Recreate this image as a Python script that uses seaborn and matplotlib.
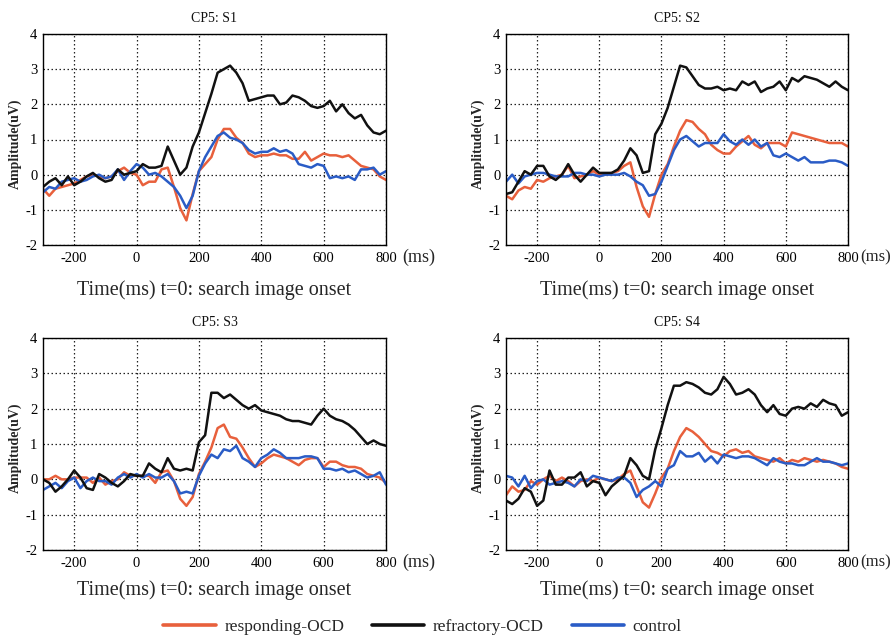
import matplotlib
matplotlib.use("Agg")
import matplotlib.pyplot as plt
import numpy as np
import pandas as pd
import seaborn as sns

# ---------------- data ----------------
times = [-300, -280, -260, -240, -220, -200, -180, -160,
         -140, -120, -100, -80, -60, -40, -20, 0,
         20, 40, 60, 80, 100, 120, 140, 160,
         180, 200, 220, 240, 260, 280, 300, 320,
         340, 360, 380, 400, 420, 440, 460, 480,
         500, 520, 540, 560, 580, 600, 620, 640,
         660, 680, 700, 720, 740, 760, 780, 800]

panel_titles = ["CP5: S1", "CP5: S2", "CP5: S3", "CP5: S4"]
groups = ["responding-OCD", "refractory-OCD", "control"]
x_ticks = [-200, 0, 200, 400, 600, 800]
y_ticks = [-2, -1, 0, 1, 2, 3, 4]

s1_responding = [-0.4, -0.6, -0.4, -0.35, -0.3, -0.25, -0.15, -0.05,
                 0.0, -0.05, -0.1, -0.05, 0.1, 0.2, 0.05, 0.0,
                 -0.3, -0.2, -0.2, 0.15, 0.2, -0.35, -0.95, -1.3,
                 -0.55, 0.1, 0.3, 0.5, 1.0, 1.3, 1.3, 1.05,
                 0.9, 0.6, 0.5, 0.55, 0.55, 0.6, 0.55, 0.55,
                 0.45, 0.45, 0.65, 0.4, 0.5, 0.6, 0.55, 0.55,
                 0.5, 0.55, 0.4, 0.25, 0.2, 0.15, -0.05, -0.15]
s1_refractory = [-0.35, -0.2, -0.1, -0.3, -0.05, -0.3, -0.2, -0.05,
                 0.05, -0.1, -0.2, -0.15, 0.15, 0.0, 0.05, 0.1,
                 0.3, 0.2, 0.2, 0.25, 0.8, 0.4, 0.0, 0.2,
                 0.8, 1.2, 1.75, 2.3, 2.9, 3.0, 3.1, 2.9,
                 2.6, 2.1, 2.15, 2.2, 2.25, 2.25, 2.0, 2.05,
                 2.25, 2.2, 2.1, 1.95, 1.9, 1.95, 2.1, 1.8,
                 2.0, 1.75, 1.6, 1.7, 1.4, 1.2, 1.15, 1.25]
s1_control = [-0.5, -0.35, -0.4, -0.2, -0.15, -0.1, -0.2, -0.15,
              -0.05, 0.0, -0.1, -0.05, 0.15, -0.15, 0.1, 0.3,
              0.2, 0.0, 0.05, -0.05, -0.2, -0.35, -0.6, -0.95,
              -0.6, 0.1, 0.5, 0.8, 1.1, 1.2, 1.05, 1.0,
              0.9, 0.7, 0.6, 0.65, 0.65, 0.75, 0.65, 0.7,
              0.6, 0.3, 0.25, 0.2, 0.3, 0.25, -0.1, -0.05,
              -0.1, -0.05, -0.15, 0.15, 0.15, 0.2, 0.0, 0.1]

s2_responding = [-0.6, -0.7, -0.45, -0.35, -0.4, -0.15, -0.2, -0.1,
                 -0.05, 0.0, 0.25, -0.1, -0.05, 0.0, 0.1, 0.0,
                 0.0, 0.05, 0.1, 0.25, 0.35, -0.35, -0.9, -1.2,
                 -0.55, 0.0, 0.3, 0.8, 1.25, 1.55, 1.5, 1.3,
                 1.15, 0.85, 0.7, 0.6, 0.6, 0.8, 0.95, 1.1,
                 0.85, 0.75, 0.9, 0.9, 0.9, 0.8, 1.2, 1.15,
                 1.1, 1.05, 1.0, 0.95, 0.9, 0.9, 0.9, 0.8]
s2_refractory = [-0.55, -0.5, -0.2, 0.1, 0.0, 0.25, 0.25, -0.05,
                 -0.15, 0.0, 0.3, 0.0, -0.2, 0.0, 0.2, 0.05,
                 0.05, 0.05, 0.15, 0.4, 0.75, 0.55, 0.05, 0.1,
                 1.15, 1.45, 1.9, 2.5, 3.1, 3.05, 2.8, 2.55,
                 2.45, 2.45, 2.5, 2.4, 2.45, 2.4, 2.65, 2.55,
                 2.65, 2.35, 2.45, 2.5, 2.65, 2.4, 2.75, 2.65,
                 2.8, 2.75, 2.7, 2.6, 2.5, 2.65, 2.5, 2.4]
s2_control = [-0.2, 0.0, -0.25, -0.05, 0.0, 0.05, 0.05, 0.0,
              -0.05, -0.05, -0.05, 0.05, 0.05, 0.0, 0.0, -0.05,
              0.0, 0.0, 0.0, 0.05, -0.05, -0.2, -0.3, -0.6,
              -0.55, -0.2, 0.25, 0.7, 1.0, 1.1, 0.95, 0.8,
              0.9, 0.9, 0.9, 1.15, 0.95, 0.85, 1.0, 0.85,
              1.0, 0.8, 0.9, 0.55, 0.5, 0.6, 0.5, 0.4,
              0.5, 0.35, 0.35, 0.35, 0.4, 0.4, 0.35, 0.25]

s3_responding = [0.0, 0.0, 0.1, 0.0, 0.0, 0.05, 0.05, 0.05,
                 -0.1, 0.05, -0.15, -0.05, 0.0, 0.2, 0.1, 0.1,
                 0.1, 0.1, -0.1, 0.2, 0.25, -0.05, -0.55, -0.75,
                 -0.5, 0.15, 0.5, 0.9, 1.45, 1.55, 1.2, 1.15,
                 0.9, 0.6, 0.35, 0.45, 0.6, 0.7, 0.65, 0.6,
                 0.5, 0.4, 0.55, 0.6, 0.6, 0.35, 0.5, 0.5,
                 0.4, 0.35, 0.35, 0.3, 0.15, 0.1, 0.05, -0.1]
s3_refractory = [0.0, -0.1, -0.35, -0.2, 0.0, 0.25, 0.05, -0.25,
                 -0.3, 0.15, 0.05, -0.1, -0.2, -0.05, 0.15, 0.1,
                 0.1, 0.45, 0.3, 0.2, 0.6, 0.3, 0.25, 0.3,
                 0.25, 1.05, 1.25, 2.45, 2.45, 2.3, 2.4, 2.25,
                 2.1, 2.0, 2.1, 1.95, 1.9, 1.85, 1.8, 1.7,
                 1.65, 1.65, 1.6, 1.55, 1.8, 2.0, 1.8, 1.7,
                 1.65, 1.55, 1.4, 1.2, 1.0, 1.1, 1.0, 0.95]
s3_control = [-0.3, -0.2, -0.1, -0.25, -0.05, 0.05, -0.25, -0.05,
              0.05, -0.05, -0.05, -0.15, 0.05, 0.15, 0.05, 0.15,
              0.05, 0.15, 0.05, 0.05, 0.15, -0.05, -0.4, -0.35,
              -0.4, 0.1, 0.45, 0.7, 0.6, 0.85, 0.8, 0.95,
              0.6, 0.5, 0.35, 0.6, 0.7, 0.85, 0.75, 0.6,
              0.6, 0.6, 0.65, 0.65, 0.6, 0.3, 0.3, 0.25,
              0.3, 0.2, 0.25, 0.15, 0.05, 0.1, 0.2, -0.15]

s4_responding = [-0.45, -0.2, -0.35, -0.3, -0.05, -0.15, 0.0, 0.1,
                 -0.05, 0.05, -0.05, -0.2, -0.05, 0.0, -0.05, 0.05,
                 0.0, -0.05, 0.0, 0.15, 0.25, -0.2, -0.65, -0.8,
                 -0.4, 0.05, 0.3, 0.8, 1.2, 1.45, 1.35, 1.2,
                 1.0, 0.8, 0.75, 0.65, 0.8, 0.85, 0.75, 0.8,
                 0.65, 0.6, 0.55, 0.5, 0.6, 0.45, 0.55, 0.5,
                 0.6, 0.55, 0.5, 0.55, 0.5, 0.45, 0.35, 0.3]
s4_refractory = [-0.6, -0.7, -0.55, -0.25, -0.35, -0.75, -0.6, 0.25,
                 -0.15, -0.15, 0.05, 0.05, 0.2, -0.2, -0.05, -0.1,
                 -0.45, -0.2, -0.05, 0.1, 0.6, 0.4, 0.1, 0.0,
                 0.85, 1.45, 2.1, 2.65, 2.65, 2.75, 2.7, 2.6,
                 2.45, 2.4, 2.55, 2.9, 2.7, 2.4, 2.45, 2.55,
                 2.4, 2.1, 1.9, 2.1, 1.85, 1.8, 2.0, 2.05,
                 2.0, 2.15, 2.05, 2.25, 2.15, 2.1, 1.8, 1.9]
s4_control = [0.1, 0.05, -0.2, 0.1, -0.25, -0.05, 0.0, -0.15,
              -0.1, -0.05, -0.1, -0.2, 0.0, -0.05, 0.1, 0.05,
              0.0, -0.05, 0.05, 0.05, -0.1, -0.5, -0.3, -0.2,
              -0.05, -0.2, 0.3, 0.4, 0.8, 0.65, 0.65, 0.75,
              0.5, 0.65, 0.45, 0.7, 0.65, 0.6, 0.65, 0.65,
              0.6, 0.5, 0.4, 0.6, 0.5, 0.45, 0.45, 0.4,
              0.4, 0.5, 0.6, 0.5, 0.5, 0.45, 0.4, 0.45]

panels = [
    (s1_responding, s1_refractory, s1_control),
    (s2_responding, s2_refractory, s2_control),
    (s3_responding, s3_refractory, s3_control),
    (s4_responding, s4_refractory, s4_control),
]

# ---------------- style ----------------
sns.set_theme(style="white")
plt.rcParams['font.family'] = ['Liberation Serif', 'DejaVu Serif']
plt.rcParams['axes.edgecolor'] = 'black'
plt.rcParams['axes.linewidth'] = 1.0

palette = {"responding-OCD": "#E8603C",
           "refractory-OCD": "#111111",
           "control": "#2A5CC6"}
draw_order = ["responding-OCD", "control", "refractory-OCD"]

W, H = 895, 635
fig = plt.figure(figsize=(W / 100, H / 100), dpi=100)
rects = [
    (43, 34, 343, 211),
    (506, 34, 342, 211),
    (43, 338, 343, 212),
    (506, 338, 342, 212),
]
xlabel_y = [-0.166, -0.166, -0.142, -0.142]
ms_x = [1.047, 1.036, 1.047, 1.036]
ms_size = [13, 12, 13, 12]

axes = []
for i, (l, t, w, h) in enumerate(rects):
    ax = fig.add_axes([l / W, 1 - (t + h) / H, w / W, h / H])
    axes.append(ax)
    resp, refr, ctrl = panels[i]
    df = pd.DataFrame({
        "time": times * 3,
        "amplitude": resp + refr + ctrl,
        "group": ["responding-OCD"] * len(times) + ["refractory-OCD"] * len(times)
                 + ["control"] * len(times),
    })
    sns.lineplot(data=df, x="time", y="amplitude", hue="group",
                 hue_order=draw_order, palette=palette, ax=ax,
                 legend=False, linewidth=1.8, estimator=None, sort=False)
    ax.set_xlim(-300, 800)
    ax.set_ylim(-2, 4)
    ax.set_xticks(x_ticks)
    ax.set_yticks(y_ticks)
    ax.set_xticklabels([str(v) for v in x_ticks])
    ax.set_yticklabels([str(v) for v in y_ticks])
    ax.grid(True, linestyle=(0, (1.2, 2.0)), color='#222222', linewidth=0.9)
    ax.set_axisbelow(True)
    ax.tick_params(axis='both', labelsize=10.5, colors='black', length=3,
                   direction='in', pad=4, width=0.8)
    ax.tick_params(axis='x', pad=5)
    for sp in ax.spines.values():
        sp.set_color('black')
        sp.set_linewidth(1.0)
    ax.set_title(panel_titles[i], fontsize=10, pad=9, color='#111111')
    ax.set_ylabel("Amplitude(uV)", fontsize=10, fontweight='bold')
    ax.yaxis.set_label_coords(-0.062, 0.48)
    ax.set_xlabel("Time(ms) t=0: search image onset", fontsize=14.5)
    ax.xaxis.set_label_coords(0.5, xlabel_y[i])
    ax.text(ms_x[i], -0.057, "(ms)", transform=ax.transAxes, fontsize=ms_size[i],
            ha='left', va='center')

# legend in reference order
line_map = {}
for ln, g in zip(axes[0].get_lines(), draw_order):
    line_map[g] = ln
handles = [line_map[g] for g in groups]
leg = fig.legend(handles, groups, loc='center', ncol=3,
                 bbox_to_anchor=(0.472, 0.012), frameon=False,
                 fontsize=12.5, handlelength=3.0, handletextpad=0.5,
                 columnspacing=1.6)
for lh in leg.get_lines():
    lh.set_linewidth(2.6)

fig.savefig("out.png", dpi=100)
